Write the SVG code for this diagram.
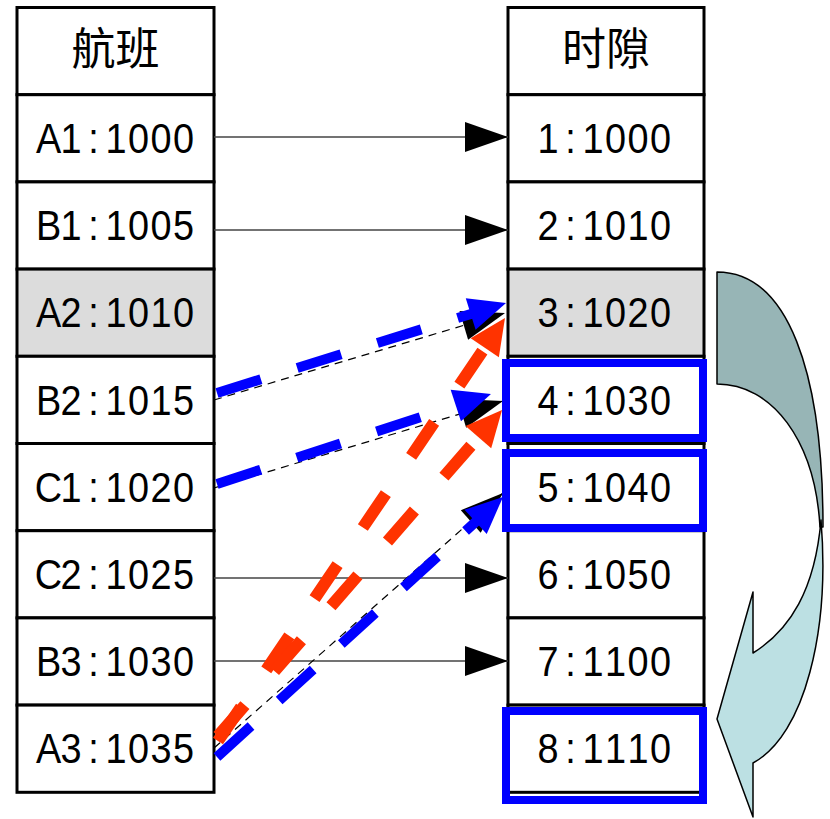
<svg xmlns="http://www.w3.org/2000/svg" width="830" height="819" viewBox="0 0 830 819">
<defs>
<style>
.cell{fill:#fff;stroke:#000;stroke-width:3}
.gray{fill:#dcdcdc}
.t{font-family:"Liberation Sans",Arial,sans-serif;font-size:43px;fill:#000;text-anchor:middle}
.h{font-family:"Noto Sans CJK SC","Noto Sans",sans-serif;font-size:44px;fill:#000;text-anchor:middle}
.hl{fill:none;stroke:#0000ff;stroke-width:8}
.solid{stroke:#444;stroke-width:1.5;fill:none}
.thin{stroke:#000;stroke-width:1.2;stroke-dasharray:8 6;fill:none}
.blue{stroke:#0000ff;stroke-width:10;stroke-dasharray:46 38;fill:none}
.orange{stroke:#ff3300;stroke-width:12;stroke-dasharray:41 45;fill:none}
.curve{stroke:#000;stroke-width:1.5;stroke-linejoin:round}
</style>
<marker id="ab" markerUnits="userSpaceOnUse" markerWidth="44" markerHeight="31" refX="43" refY="15" orient="auto" overflow="visible"><path d="M0,0 L43,15 L0,30 Z" fill="#000"/></marker>
<marker id="abl" markerUnits="userSpaceOnUse" markerWidth="38" markerHeight="34" refX="2" refY="16.5" orient="auto" overflow="visible"><path d="M0,0 L37,16.5 L0,33 Z" fill="#0000ff"/></marker>
<marker id="aor" markerUnits="userSpaceOnUse" markerWidth="37" markerHeight="35" refX="2" refY="17" orient="auto" overflow="visible"><path d="M0,0 L36,17 L0,34 Z" fill="#ff3300"/></marker>
</defs>
<rect width="830" height="819" fill="#fff"/>

<g id="flights">
<g id="f-header"><rect class="cell" x="17" y="7.5" width="197" height="87.2"/><text class="h" x="115.5" y="65">航班</text></g>
<g id="f-A1"><rect class="cell" x="17" y="94.7" width="197" height="87.2"/><text class="t" transform="translate(116,153) scale(0.88,1)" x="-76.7 -51.14 -25.57 0 25.57 51.14 76.7" y="0">A1:1000</text></g>
<g id="f-B1"><rect class="cell" x="17" y="181.9" width="197" height="87.2"/><text class="t" transform="translate(116,240.2) scale(0.88,1)" x="-76.7 -51.14 -25.57 0 25.57 51.14 76.7" y="0">B1:1005</text></g>
<g id="f-A2"><rect class="cell gray" x="17" y="269.1" width="197" height="87.2"/><text class="t" transform="translate(116,327.4) scale(0.88,1)" x="-76.7 -51.14 -25.57 0 25.57 51.14 76.7" y="0">A2:1010</text></g>
<g id="f-B2"><rect class="cell" x="17" y="356.3" width="197" height="87.2"/><text class="t" transform="translate(116,414.6) scale(0.88,1)" x="-76.7 -51.14 -25.57 0 25.57 51.14 76.7" y="0">B2:1015</text></g>
<g id="f-C1"><rect class="cell" x="17" y="443.5" width="197" height="87.2"/><text class="t" transform="translate(116,501.8) scale(0.88,1)" x="-76.7 -51.14 -25.57 0 25.57 51.14 76.7" y="0">C1:1020</text></g>
<g id="f-C2"><rect class="cell" x="17" y="530.7" width="197" height="87.2"/><text class="t" transform="translate(116,589) scale(0.88,1)" x="-76.7 -51.14 -25.57 0 25.57 51.14 76.7" y="0">C2:1025</text></g>
<g id="f-B3"><rect class="cell" x="17" y="617.9" width="197" height="87.2"/><text class="t" transform="translate(116,676.2) scale(0.88,1)" x="-76.7 -51.14 -25.57 0 25.57 51.14 76.7" y="0">B3:1030</text></g>
<g id="f-A3"><rect class="cell" x="17" y="705.1" width="197" height="87.2"/><text class="t" transform="translate(116,763.4) scale(0.88,1)" x="-76.7 -51.14 -25.57 0 25.57 51.14 76.7" y="0">A3:1035</text></g>
</g>

<g id="slots">
<g id="s-header"><rect class="cell" x="508" y="7.5" width="196" height="87.2"/><text class="h" x="606" y="65">时隙</text></g>
<g id="s-1"><rect class="cell" x="508" y="94.7" width="196" height="87.2"/><text class="t" transform="translate(604.25,153) scale(0.88,1)" x="-63.92 -38.35 -12.78 12.78 38.35 63.92" y="0">1:1000</text></g>
<g id="s-2"><rect class="cell" x="508" y="181.9" width="196" height="87.2"/><text class="t" transform="translate(604.25,240.2) scale(0.88,1)" x="-63.92 -38.35 -12.78 12.78 38.35 63.92" y="0">2:1010</text></g>
<g id="s-3"><rect class="cell gray" x="508" y="269.1" width="196" height="87.2"/><text class="t" transform="translate(604.25,327.4) scale(0.88,1)" x="-63.92 -38.35 -12.78 12.78 38.35 63.92" y="0">3:1020</text></g>
<g id="s-4"><rect class="cell" x="508" y="356.3" width="196" height="87.2"/><text class="t" transform="translate(604.25,414.6) scale(0.88,1)" x="-63.92 -38.35 -12.78 12.78 38.35 63.92" y="0">4:1030</text></g>
<g id="s-5"><rect class="cell" x="508" y="443.5" width="196" height="87.2"/><text class="t" transform="translate(604.25,501.8) scale(0.88,1)" x="-63.92 -38.35 -12.78 12.78 38.35 63.92" y="0">5:1040</text></g>
<g id="s-6"><rect class="cell" x="508" y="530.7" width="196" height="87.2"/><text class="t" transform="translate(604.25,589) scale(0.88,1)" x="-63.92 -38.35 -12.78 12.78 38.35 63.92" y="0">6:1050</text></g>
<g id="s-7"><rect class="cell" x="508" y="617.9" width="196" height="87.2"/><text class="t" transform="translate(604.25,676.2) scale(0.88,1)" x="-63.92 -38.35 -12.78 12.78 38.35 63.92" y="0">7:1100</text></g>
<g id="s-8"><rect class="cell" x="508" y="705.1" width="196" height="87.2"/><text class="t" transform="translate(604.25,763.4) scale(0.88,1)" x="-63.92 -38.35 -12.78 12.78 38.35 63.92" y="0">8:1110</text></g>
</g>

<g id="curved-arrow">
<path class="curve" fill="#97b5b6" d="M717,272 C788,272 823,372 823,527 L820,527 C815,440 772,384 717,384 Z"/>
<path class="curve" fill="#bce0e3" d="M821,520 C830,630 805,735 753,763 L753,817 L717,719 L753,592 L753,653 C790,630 815,590 821,520 Z"/>
</g>

<g id="connectors">
<line class="solid" x1="214" y1="137" x2="508" y2="137" marker-end="url(#ab)"/>
<line class="solid" x1="214" y1="230" x2="508" y2="230" marker-end="url(#ab)"/>
<line class="solid" x1="214" y1="578" x2="508" y2="578" marker-end="url(#ab)"/>
<line class="solid" x1="214" y1="661" x2="508" y2="661" marker-end="url(#ab)"/>
<line class="thin" x1="214" y1="400" x2="505" y2="313" marker-end="url(#ab)"/>
<line class="thin" x1="214" y1="488" x2="503" y2="401" marker-end="url(#ab)"/>
<line class="thin" x1="214" y1="748" x2="503" y2="493" marker-end="url(#ab)"/>
<line class="orange" x1="218" y1="741" x2="485.9" y2="346.1" marker-end="url(#aor)"/>
<line class="orange" x1="218" y1="736" x2="479.7" y2="435.6" marker-end="url(#aor)"/>
<line class="blue" x1="217" y1="393" x2="472.6" y2="313.4" marker-end="url(#abl)"/>
<line class="blue" x1="217" y1="484" x2="457.7" y2="404.9" marker-end="url(#abl)"/>
<line class="blue" x1="217" y1="757" x2="477.1" y2="520.5" marker-end="url(#abl)"/>
</g>

<g id="highlights">
<rect class="hl" x="506" y="363" width="197" height="75"/>
<rect class="hl" x="506" y="453" width="197" height="75"/>
<rect class="hl" x="506" y="711" width="197" height="89"/>
</g>
</svg>
